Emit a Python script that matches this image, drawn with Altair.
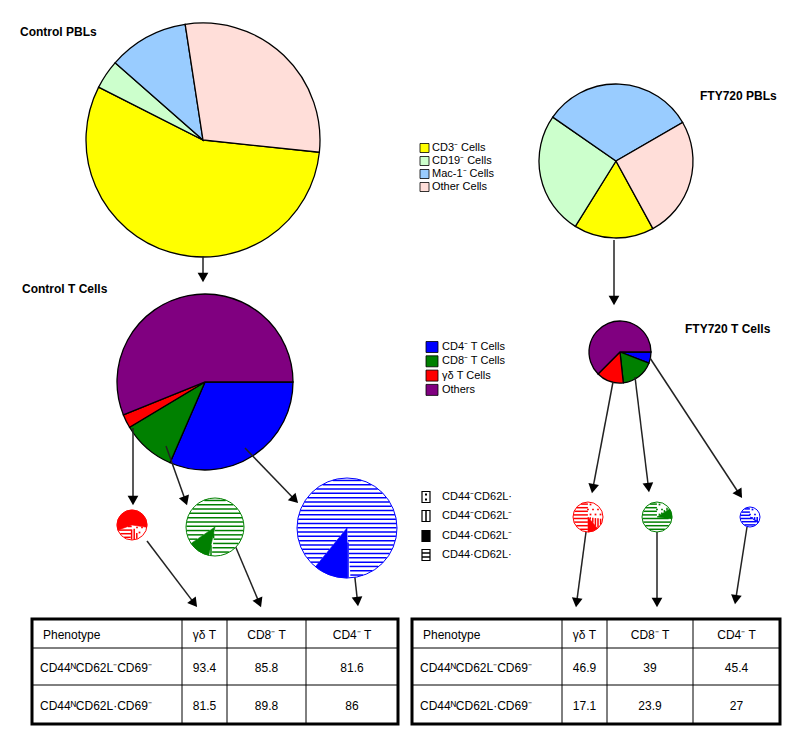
import altair as alt
import numpy as np
import pandas as pd

# ---------------- data ----------------
pbl_cats = ["CD3⁻ Cells", "CD19⁻ Cells", "Mac-1⁻ Cells", "Other Cells"]
control_pbl = [55.8, 4.0, 11.1, 29.1]
fty_pbl = [16.8, 25.8, 32.0, 25.4]

t_cats = ["CD4⁻ T Cells", "CD8⁻ T Cells", "γδ T Cells", "Others"]
control_t = [31.5, 9.9, 2.5, 56.1]
fty_t = [5.8, 17.5, 14.2, 62.5]

subset_cats = ["CD44⁻CD62L·", "CD44⁻CD62L⁻", "CD44·CD62L⁻", "CD44·CD62L·"]
control_gd = [14.0, 10.0, 58.0, 18.0]
control_cd8 = [0.0, 1.5, 12.0, 86.5]
control_cd4 = [0.0, 1.0, 11.0, 88.0]
fty_gd = [27.0, 12.0, 11.0, 50.0]
fty_cd8 = [13.0, 3.0, 11.0, 73.0]
fty_cd4 = [25.0, 8.0, 2.0, 65.0]

table_header = ["Phenotype", "γδ T", "CD8⁻ T", "CD4⁻ T"]
table_rows = ["CD44ᴺCD62L⁻CD69⁻", "CD44ᴺCD62L·CD69⁻"]
control_table = [[93.4, 85.8, 81.6], [81.5, 89.8, 86]]
fty_table = [[46.9, 39, 45.4], [17.1, 23.9, 27]]

# ---------------- styles / layout ----------------
pbl_colors = ["#ffff00", "#ccffcc", "#99ccff", "#ffded9"]
t_colors = ["#0000ff", "#008000", "#ff0000", "#800080"]
ALL_CATS = pbl_cats + t_cats
ALL_COLORS = pbl_colors + t_colors
FONT = "Liberation Sans"

W, H = 784, 725
XS = alt.Scale(domain=[8, 8 + W], range=[0, W], nice=False, zero=False)
YS = alt.Scale(domain=[8, 8 + H], range=[0, H], nice=False, zero=False)


def X(f="x"):
    return alt.X(f"{f}:Q", scale=XS, axis=None)


def Y(f="y"):
    return alt.Y(f"{f}:Q", scale=YS, axis=None)


def big_pie(values, cats, cx, cy, r, start_deg):
    df = pd.DataFrame({"cat": cats, "v": values})
    df["c1"] = df["v"].cumsum()
    df["c0"] = df["c1"] - df["v"]
    df["cx"] = cx
    df["cy"] = cy
    s = np.radians(start_deg)
    tot = float(df["v"].sum())
    return alt.Chart(df).mark_arc(outerRadius=r, stroke="black", strokeWidth=1.3).encode(
        x=X("cx"), y=Y("cy"),
        theta=alt.Theta("c0:Q", scale=alt.Scale(domain=[0, tot], range=[s, s + 2 * np.pi])),
        theta2="c1:Q",
        fill=alt.Fill("cat:N", scale=alt.Scale(domain=ALL_CATS, range=ALL_COLORS), legend=None),
    )


def sector_lines(cx, cy, r, a0, a1, orient, gap):
    segs = []
    span = a1 - a0
    if span <= 0.01:
        return segs
    t = np.arange(-r, r + 0.001, 0.2)
    for d in np.arange(-r + gap / 2, r, gap):
        if orient == "h":
            dx, dy = t, np.full_like(t, d)
        else:
            dx, dy = np.full_like(t, d), t
        inside = dx ** 2 + dy ** 2 <= r * r
        ang = np.degrees(np.arctan2(dx, -dy)) % 360
        ins = inside & (((ang - a0) % 360) <= span)
        edges = np.flatnonzero(np.diff(np.concatenate([[0], ins.astype(int), [0]])))
        for s, e in zip(edges[::2], edges[1::2]):
            p0, p1 = t[s], t[e - 1]
            if p1 - p0 < 0.6:
                continue
            if orient == "h":
                segs.append((cx + p0, cy + d, cx + p1, cy + d))
            else:
                segs.append((cx + d, cy + p0, cx + d, cy + p1))
    return segs


def sector_dots(cx, cy, r, a0, a1, gap):
    pts = []
    span = a1 - a0
    if span <= 0.01:
        return pts
    for i, yy in enumerate(np.arange(-r + gap / 2, r, gap)):
        for xx in np.arange(-r + gap / 2 + (gap / 2 if i % 2 else 0), r, gap):
            if xx * xx + yy * yy > (r - 1.5) ** 2:
                continue
            ang = np.degrees(np.arctan2(xx, -yy)) % 360
            if ((ang - a0) % 360) <= span:
                pts.append((cx + xx, cy + yy))
    return pts


small_layout = [
    # values, cx, cy, r, start angle, clockwise order of subsets, color, stripe gap
    (control_gd, 132, 525, 15, 250, [2, 0, 1, 3], "#ff0000", 3.6),
    (control_cd8, 215, 527, 29, 187, [0, 1, 2, 3], "#008000", 4.3),
    (control_cd4, 347, 528, 50, 176, [0, 1, 2, 3], "#0000ff", 4.3),
    (fty_gd, 588, 517, 15, 0, [0, 1, 2, 3], "#ff0000", 3.6),
    (fty_cd8, 657, 517, 15, 0, [0, 1, 2, 3], "#008000", 3.6),
    (fty_cd4, 750, 517, 10, 0, [0, 1, 2, 3], "#0000ff", 3.2),
]

small_layers = []
seg_rows = []
dot_rows = []
ring_rows = []
for vals, cx, cy, r, st, order, col, gap in small_layout:
    tot = float(sum(vals))
    df = pd.DataFrame({"cat": [subset_cats[k] for k in order], "v": [vals[k] for k in order]})
    df["c1"] = df["v"].cumsum()
    df["c0"] = df["c1"] - df["v"]
    df["cx"] = cx
    df["cy"] = cy
    s = np.radians(st)
    ring_rows.append({"x": cx, "y": cy, "col": col, "size": (2 * r) ** 2})
    small_layers.append(
        alt.Chart(df).transform_filter(alt.datum.cat == subset_cats[2]).mark_arc(
            outerRadius=r, fill=col, stroke=col, strokeWidth=0.6
        ).encode(
            x=X("cx"), y=Y("cy"),
            theta=alt.Theta("c0:Q", scale=alt.Scale(domain=[0, tot], range=[s, s + 2 * np.pi])),
            theta2="c1:Q",
        )
    )
    bounds = {}
    for cat, c0, c1 in zip(df["cat"], df["c0"], df["c1"]):
        bounds[cat] = (st + c0 / tot * 360, st + c1 / tot * 360)
    a0, a1 = bounds[subset_cats[3]]
    for sg in sector_lines(cx, cy, r - 0.3, a0, a1, "h", gap):
        seg_rows.append({"x": sg[0], "y": sg[1], "x2": sg[2], "y2": sg[3], "col": col})
    a0, a1 = bounds[subset_cats[1]]
    for sg in sector_lines(cx, cy, r - 0.3, a0, a1, "v", 2.6):
        seg_rows.append({"x": sg[0], "y": sg[1], "x2": sg[2], "y2": sg[3], "col": col})
    a0, a1 = bounds[subset_cats[0]]
    for p in sector_dots(cx, cy, r, a0, a1, 5.0):
        dot_rows.append({"x": p[0], "y": p[1], "col": col})

# legend 3 pattern boxes
leg3_x, leg3_y = 422, [497, 516, 536, 555]
leg_seg_rows, leg_dot_rows = [], []
for i, yy in enumerate(leg3_y):
    if i == 0:
        leg_dot_rows += [{"x": leg3_x + 4, "y": yy - 2.5, "col": "black"},
                         {"x": leg3_x + 4, "y": yy + 2.5, "col": "black"}]
    elif i == 1:
        leg_seg_rows.append({"x": leg3_x + 4, "y": yy - 5.5, "x2": leg3_x + 4, "y2": yy + 5.5, "col": "black"})
    elif i == 3:
        for dy in (-2, 2):
            leg_seg_rows.append({"x": leg3_x, "y": yy + dy, "x2": leg3_x + 8, "y2": yy + dy, "col": "black"})

hatch = alt.Chart(pd.DataFrame(seg_rows)).mark_rule(strokeWidth=1.5).encode(
    x=X(), y=Y(), x2="x2:Q", y2="y2:Q", stroke=alt.Stroke("col:N", scale=None)
)
dots = alt.Chart(pd.DataFrame(dot_rows)).mark_point(shape="square", filled=True, size=3, opacity=1).encode(
    x=X(), y=Y(), fill=alt.Fill("col:N", scale=None)
)
ring_df = pd.DataFrame(ring_rows)
rings = alt.Chart(ring_df).mark_point(shape="circle", filled=False, strokeWidth=1, opacity=1).encode(
    x=X(), y=Y(), stroke=alt.Stroke("col:N", scale=None), size=alt.Size("size:Q", scale=None)
)
ring_fill = alt.Chart(ring_df).mark_point(shape="circle", filled=True, fill="white", opacity=1).encode(
    x=X(), y=Y(), size=alt.Size("size:Q", scale=None)
)
leg_hatch = alt.Chart(pd.DataFrame(leg_seg_rows)).mark_rule(strokeWidth=1.5, color="black").encode(
    x=X(), y=Y(), x2="x2:Q", y2="y2:Q"
)
leg_dots = alt.Chart(pd.DataFrame(leg_dot_rows)).mark_point(
    shape="square", filled=True, size=4, opacity=1, color="black"
).encode(x=X(), y=Y())

# ---------------- arrows ----------------
arrows = [
    (203, 256, 203, 282), (614, 240, 614, 305),
    (133, 428, 133, 505), (166, 446, 187, 505), (245, 448, 298, 503),
    (613, 382, 592, 493), (635, 377, 649, 492), (650, 358, 742, 498),
    (147, 541, 197, 607), (234, 543, 261, 607), (353, 560, 358, 606),
    (586, 532, 576, 607), (657, 532, 657, 607), (747, 527, 735, 604),
]
ar_rows, head_rows = [], []
for x1, y1, x2, y2 in arrows:
    dx, dy = x2 - x1, y2 - y1
    L = np.hypot(dx, dy)
    ux, uy = dx / L, dy / L
    hx, hy = x2 - 4.5 * ux, y2 - 4.5 * uy
    ar_rows.append({"x": x1, "y": y1, "x2": hx, "y2": hy})
    head_rows.append({"x": hx, "y": hy, "ang": float(np.degrees(np.arctan2(-dx, dy)) % 360)})
arrow_lines = alt.Chart(pd.DataFrame(ar_rows)).mark_rule(color="#222222", strokeWidth=1.5).encode(
    x=X(), y=Y(), x2="x2:Q", y2="y2:Q"
)
arrow_heads = alt.Chart(pd.DataFrame(head_rows)).mark_point(
    shape="triangle-down", filled=True, color="black", size=115, opacity=1
).encode(x=X(), y=Y(), angle=alt.Angle("ang:Q", scale=None))

# ---------------- legends ----------------
leg_rows = []
for i, c in enumerate(pbl_cats):
    leg_rows.append({"x": 420, "x2": 429, "y": 143.5 + 13 * i, "y2": 152.5 + 13 * i, "cat": c})
for i, c in enumerate(t_cats):
    leg_rows.append({"x": 426, "x2": 438, "y": 341.5 + 14.3 * i, "y2": 352.5 + 14.3 * i, "cat": c})
leg_boxes = alt.Chart(pd.DataFrame(leg_rows)).mark_rect(stroke="black", strokeWidth=0.8).encode(
    x=X(), x2="x2:Q", y=Y(), y2="y2:Q",
    fill=alt.Fill("cat:N", scale=alt.Scale(domain=ALL_CATS, range=ALL_COLORS), legend=None),
)
leg3_rows = [{"x": leg3_x, "x2": leg3_x + 8, "y": yy - 5.5, "y2": yy + 5.5,
              "f": "black" if i == 2 else "white"} for i, yy in enumerate(leg3_y)]
leg3_boxes = alt.Chart(pd.DataFrame(leg3_rows)).mark_rect(stroke="black", strokeWidth=1.2).encode(
    x=X(), x2="x2:Q", y=Y(), y2="y2:Q", fill=alt.Fill("f:N", scale=None)
)

text_rows = []
for i, c in enumerate(pbl_cats):
    text_rows.append({"x": 432, "y": 148 + 13 * i, "t": c, "s": 11, "w": "normal", "a": "left"})
for i, c in enumerate(t_cats):
    text_rows.append({"x": 442, "y": 347 + 14.3 * i, "t": c, "s": 11, "w": "normal", "a": "left"})
for i, c in enumerate(subset_cats):
    text_rows.append({"x": 442, "y": leg3_y[i], "t": c, "s": 11, "w": "normal", "a": "left"})
for x, y, t in [(20, 32, "Control PBLs"), (22, 289, "Control T Cells"),
                (700, 96, "FTY720 PBLs"), (685, 329, "FTY720 T Cells")]:
    text_rows.append({"x": x, "y": y, "t": t, "s": 12, "w": "bold", "a": "left"})

# ---------------- tables ----------------
rule_rows = []
box_rows = []
tables = [
    (control_table, 32, 398, [182, 227, 306]),
    (fty_table, 412, 780, [562, 607, 693]),
]
ty0, ty1, trows = 619, 724, [648, 685]
for vals, x0, x1, cols in tables:
    box_rows.append({"x": x0, "x2": x1, "y": ty0, "y2": ty1})
    for cx in cols:
        rule_rows.append({"x": cx, "x2": cx, "y": ty0, "y2": ty1})
    for ry in trows:
        rule_rows.append({"x": x0, "x2": x1, "y": ry, "y2": ry})
    edges = [x0] + cols + [x1]
    centers = [(edges[k] + edges[k + 1]) / 2 for k in range(4)]
    ys = [(ty0 + trows[0]) / 2 + 1, (trows[0] + trows[1]) / 2 + 1, (trows[1] + ty1) / 2 + 1]
    for k, h in enumerate(table_header):
        if k == 0:
            text_rows.append({"x": x0 + 11, "y": ys[0], "t": h, "s": 12, "w": "normal", "a": "left"})
        else:
            text_rows.append({"x": centers[k], "y": ys[0], "t": h, "s": 12, "w": "normal", "a": "center"})
    for ri, rl in enumerate(table_rows):
        text_rows.append({"x": x0 + 8, "y": ys[ri + 1], "t": rl, "s": 12, "w": "normal", "a": "left"})
        for k, v in enumerate(vals[ri]):
            text_rows.append({"x": centers[k + 1], "y": ys[ri + 1], "t": f"{v:g}", "s": 12,
                              "w": "normal", "a": "center"})

table_rules = alt.Chart(pd.DataFrame(rule_rows)).mark_rule(color="black", strokeWidth=1).encode(
    x=X(), x2="x2:Q", y=Y(), y2="y2:Q"
)
table_boxes = alt.Chart(pd.DataFrame(box_rows)).mark_rect(
    fill="transparent", stroke="black", strokeWidth=3
).encode(x=X(), x2="x2:Q", y=Y(), y2="y2:Q")

tdf = pd.DataFrame(text_rows)
text_layers = []
for (s, w, a), g in tdf.groupby(["s", "w", "a"]):
    text_layers.append(
        alt.Chart(g).mark_text(fontSize=int(s), fontWeight=w, align=a, baseline="middle",
                               font=FONT, color="black").encode(x=X(), y=Y(), text="t:N")
    )

pies = [
    big_pie(control_pbl, pbl_cats, 203, 140, 117, 96),
    big_pie(fty_pbl, pbl_cats, 616, 161, 77, 151.4),
    big_pie(control_t, t_cats, 205, 382, 88, 90),
    big_pie(fty_t, t_cats, 620, 352, 31, 90),
]

chart = alt.layer(
    *pies, arrow_lines, arrow_heads, ring_fill, *small_layers, hatch, dots, rings,
    leg_boxes, leg3_boxes, leg_hatch, leg_dots, table_rules, table_boxes, *text_layers
).resolve_scale(theta="independent").properties(
    width=W, height=H, padding=0, autosize="none", background="white"
).configure_view(stroke=None)

chart.save("out.html", embed_options={"renderer": "svg", "actions": False})
